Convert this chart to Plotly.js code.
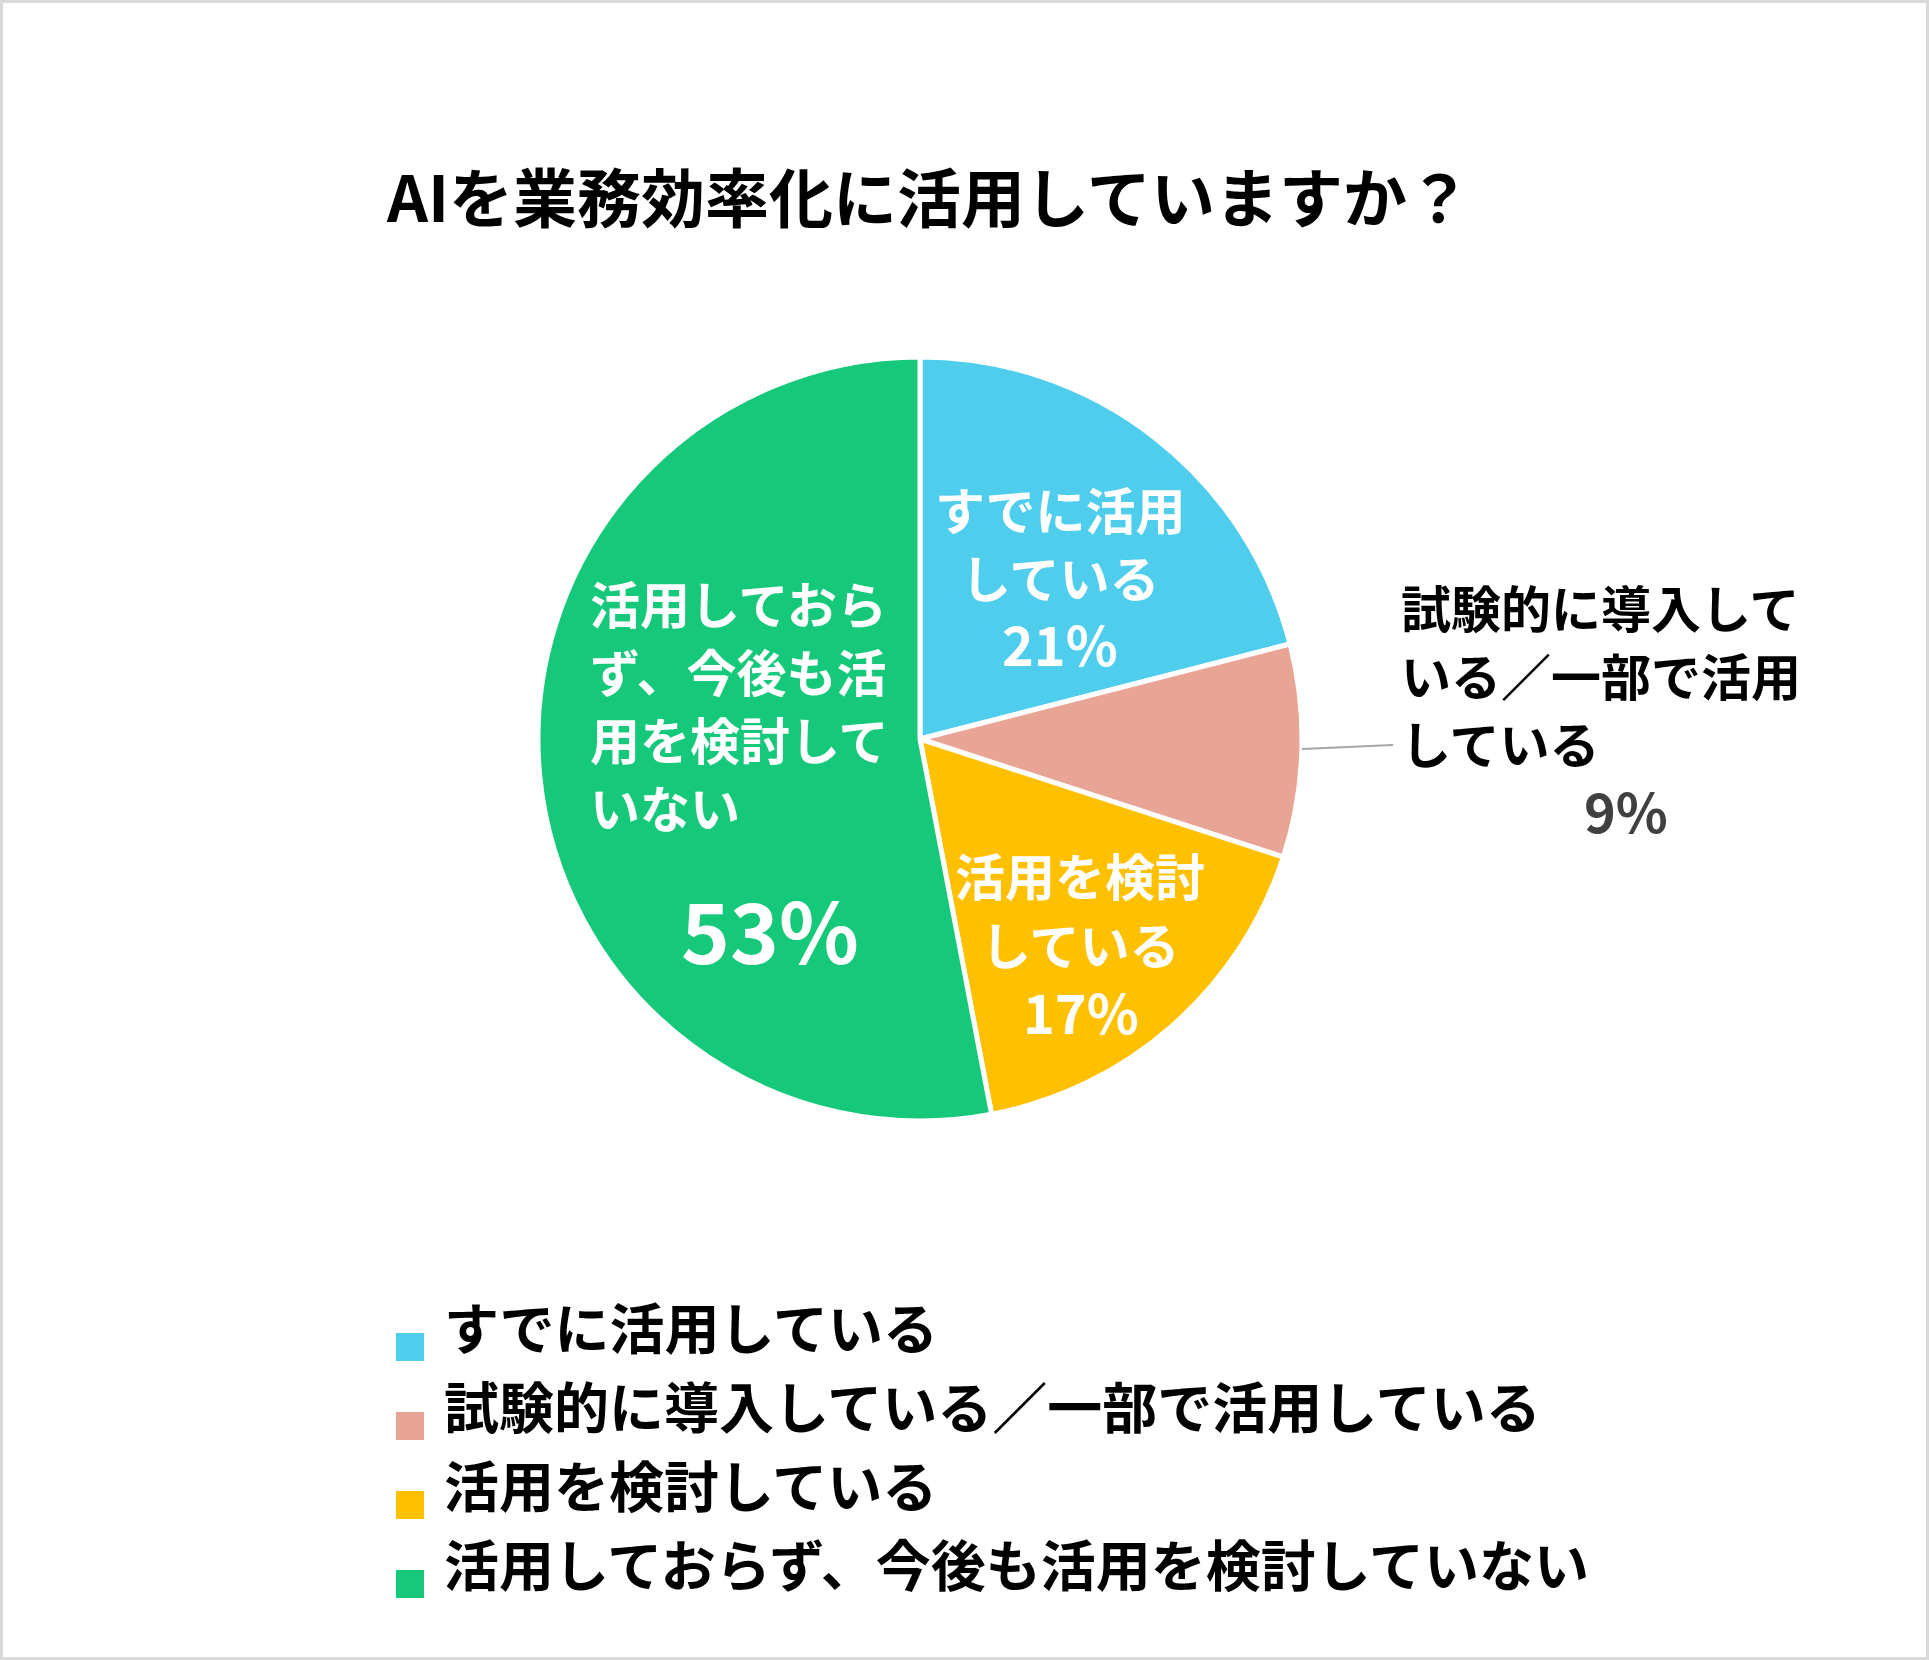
<!DOCTYPE html>
<html>
<head>
<meta charset="utf-8">
<script src="https://cdn.plot.ly/plotly-3.0.1.min.js"></script>
<style>
  body { margin: 0; background: #fff; }
</style>
</head>
<body>
<div id="chart" style="width:1929px;height:1660px"></div>
<script>
// Survey answers, clockwise from 12 o'clock
const categories = [
    'すでに活用している',
    '試験的に導入している／一部で活用している',
    '活用を検討している',
    '活用しておらず、今後も活用を検討していない'
];
const shares = [21, 9, 17, 53];

// Label text as it is wrapped on the chart
const wrappedLabels = [
    ['すでに活用', 'している'],
    ['試験的に導入して', 'いる／一部で活用', 'している'],
    ['活用を検討', 'している'],
    ['活用しておら', 'ず、今後も活', '用を検討して', 'いない']
];

const sliceColors = ['#4ECDEC', '#E8A494', '#FFC000', '#16C97A'];

const W = 1929, H = 1660;
const FONT = '"Noto Sans CJK JP", "Noto Sans CJK SC", sans-serif';

// pixel -> paper coordinates
function px(x) { return x / W; }
function py(y) { return 1 - y / H; }

// where each slice label goes (pixels): first line, line step, percent line
const labelSpots = [
    { x: 1060, y: 508, step: 68, anchor: 'center', pctX: 1060, pctY: 642, pctSize: 54, color: '#fff', pctColor: '#fff' },
    { x: 1399, y: 606, step: 68, anchor: 'left', pctX: 1626, pctY: 809, pctSize: 54, color: '#000', pctColor: '#404040' },
    { x: 1080, y: 874, step: 69, anchor: 'center', pctX: 1081, pctY: 1010, pctSize: 54, color: '#fff', pctColor: '#fff' },
    { x: 588, y: 602, step: 68, anchor: 'left', pctX: 770, pctY: 928, pctSize: 83, color: '#fff', pctColor: '#fff' }
];

function buildAnnotations() {
    const annotations = [];
    wrappedLabels.forEach(function (lines, i) {
        const spot = labelSpots[i];
        lines.forEach(function (line, j) {
            annotations.push({
                xref: 'paper', yref: 'paper',
                x: px(spot.x), y: py(spot.y + j * spot.step),
                xanchor: spot.anchor, yanchor: 'middle',
                text: line, showarrow: false,
                font: { family: FONT, size: 50, color: spot.color, weight: 700 }
            });
        });
        annotations.push({
            xref: 'paper', yref: 'paper',
            x: px(spot.pctX), y: py(spot.pctY),
            xanchor: 'center', yanchor: 'middle',
            text: shares[i] + '%', showarrow: false,
            font: { family: FONT, size: spot.pctSize, color: spot.pctColor, weight: 700 }
        });
    });

    // legend text
    categories.forEach(function (name, i) {
        annotations.push({
            xref: 'paper', yref: 'paper',
            x: px(442), y: py(1325 + i * 79),
            xanchor: 'left', yanchor: 'middle',
            text: name, showarrow: false,
            font: { family: FONT, size: 55, color: '#000', weight: 700 }
        });
    });
    return annotations;
}

function buildShapes() {
    const shapes = [];
    // legend squares
    categories.forEach(function (name, i) {
        const cy = 1347 + i * 79;
        shapes.push({
            type: 'rect', xref: 'paper', yref: 'paper',
            x0: px(396), x1: px(424), y0: py(cy - 14), y1: py(cy + 14),
            fillcolor: sliceColors[i], line: { width: 0 }
        });
    });
    // leader line for the small slice
    shapes.push({
        type: 'line', xref: 'paper', yref: 'paper',
        x0: px(1302), y0: py(749), x1: px(1393), y1: py(745),
        line: { color: '#A6A6A6', width: 2 }
    });
    // outer frame
    shapes.push({
        type: 'rect', xref: 'paper', yref: 'paper',
        x0: 0, x1: 1, y0: 0, y1: 1,
        line: { color: '#D9D9D9', width: 6 }
    });
    return shapes;
}

const R = 382;
const pieTrace = {
    type: 'pie',
    labels: categories,
    values: shares,
    sort: false,
    direction: 'clockwise',
    rotation: 0,
    textinfo: 'none',
    hoverinfo: 'none',
    showlegend: false,
    marker: { colors: sliceColors, line: { color: '#fff', width: 5 } },
    domain: { x: [px(920 - R), px(920 + R)], y: [py(739 + R), py(739 - R)] }
};

const layout = {
    width: W,
    height: H,
    margin: { l: 0, r: 0, t: 0, b: 0 },
    paper_bgcolor: '#fff',
    title: {
        text: 'AIを業務効率化に活用していますか？',
        x: px(929), y: py(200),
        xanchor: 'center', yanchor: 'middle',
        font: { family: FONT, size: 64, color: '#000', weight: 700 }
    },
    annotations: buildAnnotations(),
    shapes: buildShapes()
};

Plotly.newPlot('chart', [pieTrace], layout, { displayModeBar: false, staticPlot: true });
</script>
</body>
</html>
